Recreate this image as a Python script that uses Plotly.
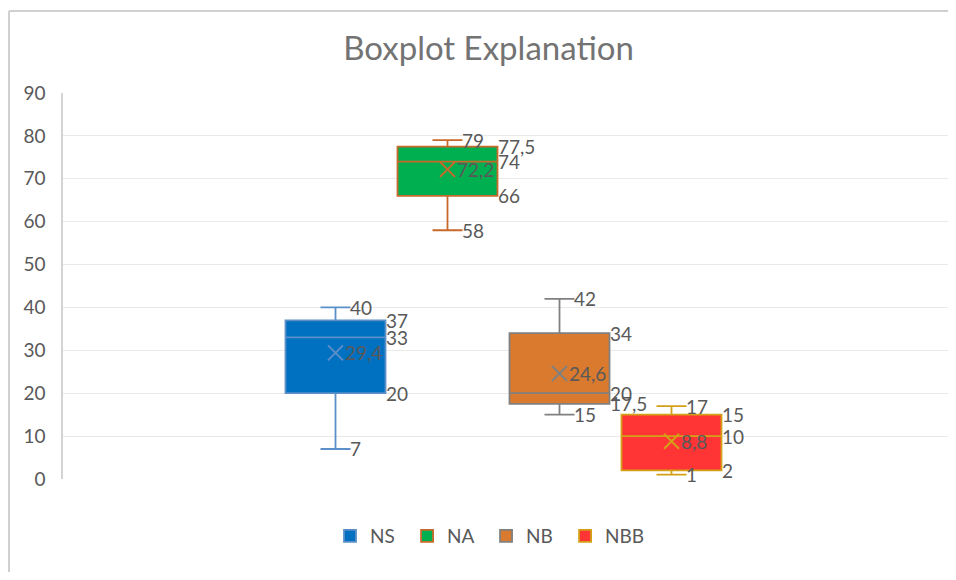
import plotly.graph_objects as go

# ---- data ----
series = ["NS", "NA", "NB", "NBB"]
minimum = [7, 58, 15, 1]
q1 = [20, 66, 17.5, 2]
median = [33, 74, 20, 10]
q3 = [37, 77.5, 34, 15]
maximum = [40, 79, 42, 17]
mean = [29.4, 72.2, 24.6, 8.8]
y_ticks = [0, 10, 20, 30, 40, 50, 60, 70, 80, 90]

# ---- styles ----
fill_colors = ["#0070C0", "#00B050", "#D97A2E", "#FF3434"]
line_colors = ["#5B8FC8", "#C8692C", "#808080", "#D4A017"]
FONT = "Lato"
TXT = "#595959"
PAD = "\u00a0\u2009"  # spacing between legend entries


def fmt(v):
    return f"{v:g}".replace(".", ",")


fig = go.Figure()
for i, name in enumerate(series):
    fig.add_trace(go.Box(
        name=name + (PAD if i < len(series) - 1 else ""),
        x=[name],
        q1=[q1[i]], median=[median[i]], q3=[q3[i]],
        lowerfence=[minimum[i]], upperfence=[maximum[i]],
        fillcolor=fill_colors[i],
        line=dict(color=line_colors[i], width=1.8),
        whiskerwidth=0.3,
        boxpoints=False,
        hoverinfo="skip",
    ))

fig.add_trace(go.Scatter(
    x=series, y=mean, mode="markers", showlegend=False, hoverinfo="skip",
    marker=dict(symbol="x-thin", size=15,
                line=dict(color=line_colors, width=2)),
))

annotations = []
for i, name in enumerate(series):
    items = [
        (maximum[i], 12), (q3[i], 48), (median[i], 48),
        (mean[i], 7), (q1[i], 48), (minimum[i], 12),
    ]
    for val, shift in items:
        annotations.append(dict(
            x=name, y=val, xref="x", yref="y", text=fmt(val),
            showarrow=False, xanchor="left", yanchor="middle",
            xshift=shift, font=dict(family=FONT, size=19, color=TXT),
        ))

W, H = 940, 564
PW, PH = 885, 386
L, T = 55, 85
R, B = W - L - PW, H - T - PH
bx0 = (1 - L) / PW
by1 = 1 + (T - 3) / PH
fig.update_layout(
    width=W, height=H,
    margin=dict(l=L, r=R, t=T, b=B),
    paper_bgcolor="white", plot_bgcolor="white",
    boxgap=0.107, boxgroupgap=0,
    showlegend=True,
    title=dict(text="Boxplot Explanation", x=(480.5 - L) / PW, xref="paper", xanchor="center",
               y=1 - 40 / H, yref="container", yanchor="middle",
               font=dict(family=FONT, size=33, color="#737373")),
    legend=dict(orientation="h", x=(322 - L) / PW, xanchor="left", y=-57 / PH, yanchor="middle",
                font=dict(family=FONT, size=19, color=TXT), traceorder="normal"),
    xaxis=dict(type="category", categoryorder="array", categoryarray=series,
               range=[-2.433, -2.433 + PW / 112],
               showticklabels=False, showgrid=False,
               zeroline=False, showline=False, ticks=""),
    yaxis=dict(range=[0, 90], tickvals=y_ticks, showgrid=True, gridcolor="#E9E9E9",
               gridwidth=1.3, zeroline=False, showline=True, linecolor="#D4D4D4",
               linewidth=1.5, ticks="", ticklabelstandoff=12,
               tickfont=dict(family=FONT, size=19, color=TXT)),
    annotations=annotations,
    shapes=[
        dict(type="line", xref="paper", yref="paper", x0=bx0, x1=1 + R / PW, y0=by1, y1=by1,
             line=dict(color="#D0D0D0", width=2)),
        dict(type="line", xref="paper", yref="paper", x0=bx0, x1=bx0, y0=-B / PH, y1=by1,
             line=dict(color="#D0D0D0", width=2)),
    ],
)

fig.write_html("out.html")
